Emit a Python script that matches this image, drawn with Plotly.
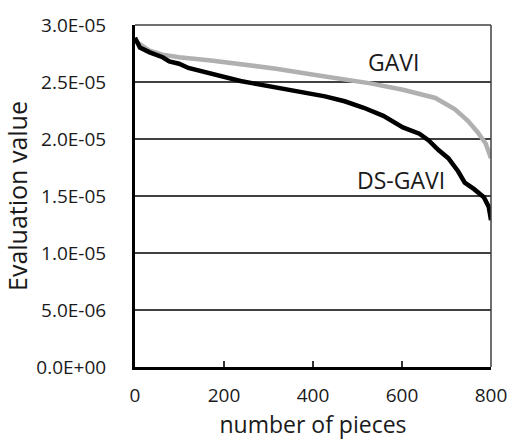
import plotly.graph_objects as go

# DS-GAVI (black) curve samples
ds_x = [0, 11, 33, 62, 77, 99, 120, 150, 179, 208, 237, 266, 296, 332, 368, 383, 427, 471, 514,
        558, 602, 639, 660, 682, 704, 726, 741, 762, 784, 795, 800]
ds_y = [2.888e-5, 2.803e-5, 2.760e-5, 2.717e-5, 2.680e-5, 2.660e-5, 2.623e-5, 2.594e-5, 2.560e-5,
        2.537e-5, 2.509e-5, 2.488e-5, 2.466e-5, 2.440e-5, 2.417e-5, 2.405e-5, 2.374e-5, 2.331e-5,
        2.274e-5, 2.203e-5, 2.102e-5, 2.046e-5, 1.988e-5, 1.903e-5, 1.832e-5, 1.717e-5, 1.617e-5,
        1.560e-5, 1.489e-5, 1.403e-5, 1.288e-5]

# GAVI (gray) curve samples
ga_x = [0, 33, 62, 99, 171, 245, 317, 398, 456, 529, 602, 675, 719, 748, 770, 788, 800]
ga_y = [2.860e-5, 2.774e-5, 2.740e-5, 2.717e-5, 2.689e-5, 2.654e-5, 2.617e-5, 2.565e-5, 2.531e-5,
        2.488e-5, 2.432e-5, 2.360e-5, 2.260e-5, 2.160e-5, 2.060e-5, 1.960e-5, 1.832e-5]

y_tickvals = [0, 5e-6, 1e-5, 1.5e-5, 2e-5, 2.5e-5, 3e-5]
y_ticktext = ["0.0E+00", "5.0E-06", "1.0E-05", "1.5E-05", "2.0E-05", "2.5E-05", "3.0E-05"]
x_tickvals = [0, 200, 400, 600, 800]

FONT = "Open Sans"
TXT = "#1a1a1a"

fig = go.Figure()
fig.add_trace(go.Scatter(x=ga_x, y=ga_y, mode="lines", line=dict(color="#b0b0b0", width=4.5), name="GAVI"))
fig.add_trace(go.Scatter(x=ds_x, y=ds_y, mode="lines", line=dict(color="#000000", width=4.5), name="DS-GAVI"))

fig.add_annotation(x=581, y=2.676e-5, text="GAVI", showarrow=False, font=dict(family=FONT, size=23, color=TXT))
fig.add_annotation(x=597, y=1.64e-5, text="DS-GAVI", showarrow=False, font=dict(family=FONT, size=23, color=TXT))

fig.update_layout(
    width=519, height=445,
    margin=dict(l=135, r=18.5, t=17, b=78),
    paper_bgcolor="white", plot_bgcolor="white",
    showlegend=False,
    font=dict(family=FONT, size=19, color=TXT),
    xaxis=dict(range=[0, 800], tickvals=x_tickvals, ticks="inside", ticklen=6, tickwidth=1.5,
               tickcolor="#333", showgrid=False, zeroline=False,
               showline=True, linecolor="black", linewidth=3, mirror=False,
               ticklabelstandoff=9,
               title=dict(text="number of pieces", font=dict(size=23), standoff=4),
               tickfont=dict(size=19)),
    yaxis=dict(range=[0, 3e-5], tickvals=y_tickvals, ticktext=y_ticktext, ticks="",
               showgrid=True, gridcolor="#404040", gridwidth=1.5, zeroline=False,
               showline=True, linecolor="black", linewidth=3,
               ticklabelstandoff=22,
               title=dict(text="Evaluation value", font=dict(size=25), standoff=4),
               tickfont=dict(size=19)),
)
# thin top and right borders
fig.add_shape(type="line", xref="paper", yref="paper", x0=0, x1=1, y0=1, y1=1, line=dict(color="#404040", width=1.5))
fig.add_shape(type="line", xref="paper", yref="paper", x0=1, x1=1, y0=0, y1=1, line=dict(color="#404040", width=1.5))

fig.write_html("out.html")
